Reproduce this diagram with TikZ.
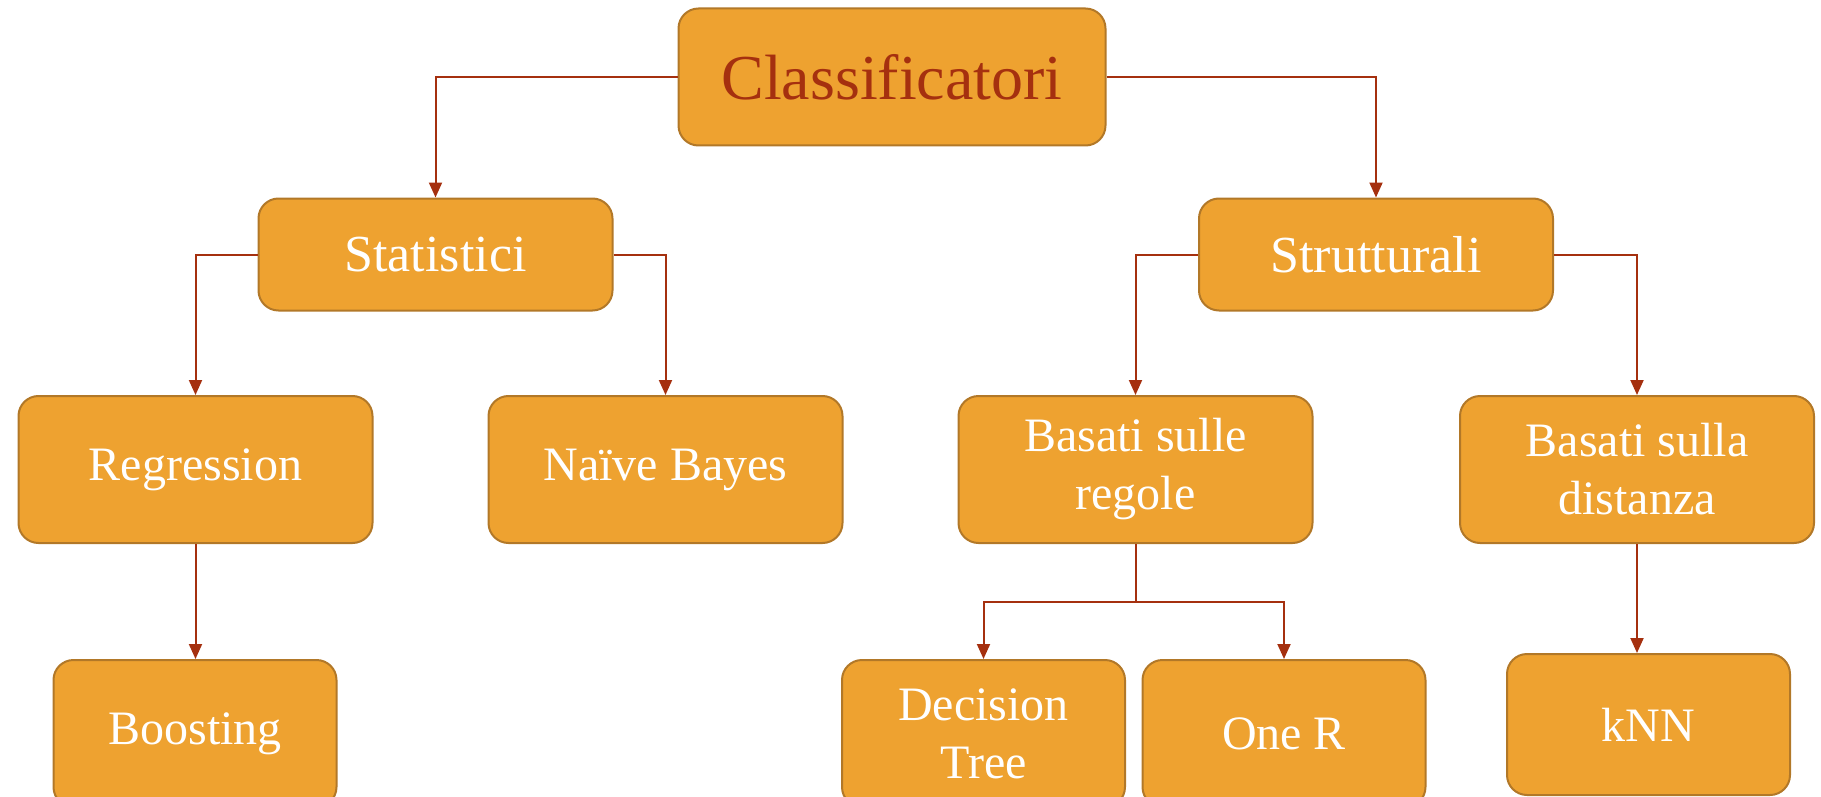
\documentclass[tikz,border=0pt]{standalone}
\usepackage{fontspec}
\setmainfont{Liberation Serif}
\usetikzlibrary{arrows.meta}

\definecolor{boxfill}{RGB}{238,162,48}
\definecolor{boxline}{RGB}{178,120,40}
\definecolor{linkred}{RGB}{165,48,15}

\tikzset{
    box/.style={draw=boxline, line width=1pt, fill=boxfill, rounded corners=10pt,
        text=white, font=\fontsize{24}{29}\selectfont, align=center, inner sep=0pt,
        minimum width=177pt, minimum height=73.5pt},
    midbox/.style={box, minimum height=56pt, font=\fontsize{26}{31}\selectfont},
    leafbox/.style={box, minimum width=141.5pt},
    link/.style={draw=linkred, line width=1pt, -{Triangle[length=7.5pt,width=6.5pt]}},
}

\begin{document}
\begin{tikzpicture}[x=0.5pt, y=-0.5pt]

    \useasboundingbox (0,0) rectangle (1821,797);

    \node[box, minimum width=213.5pt, minimum height=68.5pt, text=linkred,
        font=\fontsize{32}{38}\selectfont] (cls) at (892,77) {Classificatori};

    \node[midbox] (stat) at (435.5,254.5) {Statistici};
    \node[midbox] (strut) at (1376,254.5) {Strutturali};

    \node[box] (regr) at (195.5,469.5) {Regression};
    \node[box] (naive) at (665.5,469.5) {Naïve Bayes};
    \node[box] (regole) at (1135.5,469.5) {Basati sulle\\regole};
    \node[box] (dist) at (1637,469.5) {Basati sulla\\distanza};

    \node[leafbox] (boost) at (195,733.5) {Boosting};
    \node[leafbox] (dtree) at (983.5,733.5) {Decision\\Tree};
    \node[leafbox] (oner) at (1284,733.5) {One R};
    \node[leafbox, minimum height=70.5pt] (knn) at (1648.5,724.5) {kNN};

    % first level
    \draw[link] (cls.west) -| (stat.north);
    \draw[link] (cls.east) -| (strut.north);

    % second level
    \draw[link] (stat.west) -| (regr.north);
    \draw[link] (stat.east) -| (naive.north);
    \draw[link] (strut.west) -| (regole.north);
    \draw[link] (strut.east) -| (dist.north);

    % leaves
    \draw[link] (regr.south) -- (regr.south |- boost.north);
    \coordinate (split) at (1135.5,602);
    \draw[draw=linkred, line width=1pt] (regole.south) -- (split);
    \draw[link] (split) -| (dtree.north);
    \draw[link] (split) -| (oner.north);
    \draw[link] (dist.south) -- (dist.south |- knn.north);

\end{tikzpicture}
\end{document}
